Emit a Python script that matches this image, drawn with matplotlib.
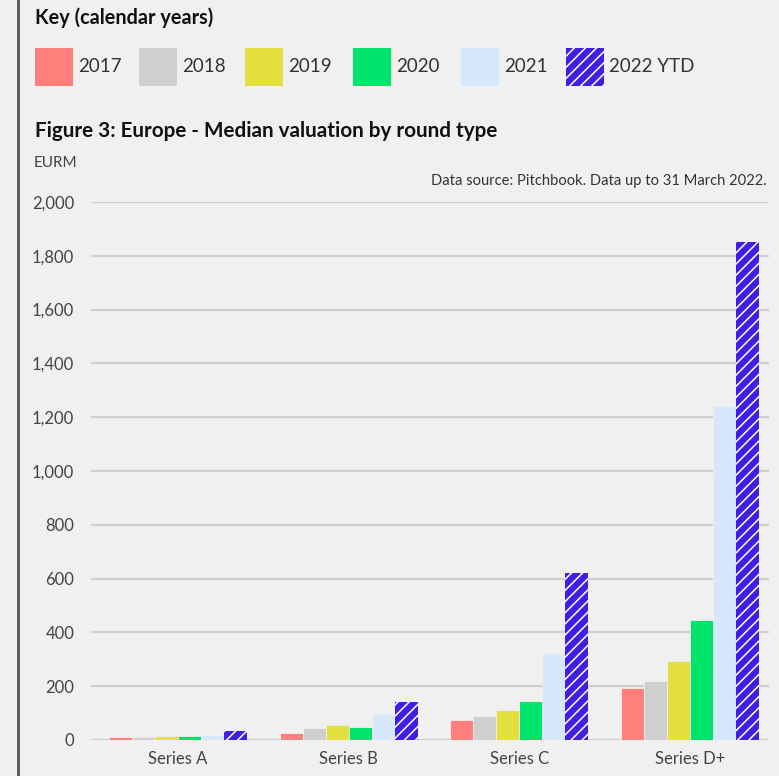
import numpy as np
import matplotlib
matplotlib.use("Agg")
import matplotlib.pyplot as plt
from matplotlib.patches import Rectangle

plt.rcParams['font.family'] = ['Lato', 'DejaVu Sans']
plt.rcParams['hatch.color'] = 'white'
plt.rcParams['hatch.linewidth'] = 1.1

rounds = ['Series A', 'Series B', 'Series C', 'Series D+']
years = ['2017', '2018', '2019', '2020', '2021', '2022 YTD']
v2017 = [11, 27, 73, 193]
v2018 = [11, 46, 91, 221]
v2019 = [15, 56, 112, 295]
v2020 = [15, 50, 144, 447]
v2021 = [19, 98, 322, 1243]
v2022 = [35, 141, 622, 1852]
colors = ['#ff7f7c', '#cfcfcf', '#e3e03d', '#00e46b', '#d7e8fc', '#3f1fe6']
hatches = [None, None, None, None, None, '///']

bg = '#f0f0f0'
fig = plt.figure(figsize=(7.79, 7.76), dpi=100, facecolor=bg)
W, H = 779, 776

ax = fig.add_axes([91 / W, 1 - 740 / H, 678 / W, 538 / H], facecolor=bg)

series = [v2017, v2018, v2019, v2020, v2021, v2022]
x = np.arange(len(rounds))
bw = 0.135
for i, vals in enumerate(series):
    off = (i - 2.5) * bw
    ax.bar(x + off, vals, bw, color=colors[i], hatch=hatches[i],
           edgecolor=bg if hatches[i] is None else 'white', linewidth=0.6 if hatches[i] is None else 0,
           zorder=3)

ax.set_xlim(-0.51, 3.464)
ax.set_ylim(0, 2000)
ax.set_yticks(np.arange(0, 2001, 200))
ax.yaxis.set_major_formatter(matplotlib.ticker.FuncFormatter(lambda v, p: f'{int(v):,}'))
ax.set_xticks(x)
ax.set_xticklabels(rounds)
ax.grid(axis='y', color='#cfcfcf', linewidth=1.6, zorder=0)
ax.tick_params(axis='both', length=0, labelsize=12, labelcolor='#444444')
ax.tick_params(axis='y', pad=12)
ax.tick_params(axis='x', pad=8)
for s in ax.spines.values():
    s.set_visible(False)

# vertical rule down the left edge
fig.add_artist(plt.Line2D([18 / W, 18 / W], [0, 1], color='#555555', linewidth=2))

fig.text(35 / W, 1 - 18 / H, 'Key (calendar years)', fontsize=14.3, fontweight='bold',
         color='#111111', va='center', ha='left')

# key swatches
sw_x = [35, 139, 245, 353, 461, 566]
for i, lab in enumerate(years):
    x0 = sw_x[i]
    r = Rectangle((x0 / W, 1 - 86 / H), 38 / W, 38 / H, transform=fig.transFigure,
                  facecolor=colors[i], hatch=hatches[i], edgecolor='white' if hatches[i] else 'none',
                  linewidth=0)
    fig.add_artist(r)
    fig.text((x0 + 43) / W, 1 - 67 / H, lab, fontsize=13.5, color='#333333', va='center', ha='left')

fig.text(35 / W, 1 - 131 / H, 'Figure 3: Europe - Median valuation by round type', fontsize=14.9,
         fontweight='bold', color='#111111', va='center', ha='left')
fig.text(34 / W, 1 - 163 / H, 'EURM', fontsize=11, color='#444444', va='center', ha='left')
fig.text(767 / W, 1 - 181 / H, 'Data source: Pitchbook. Data up to 31 March 2022.', fontsize=10.6,
         color='#333333', va='center', ha='right')

fig.savefig('out.png', dpi=100, facecolor=bg)
